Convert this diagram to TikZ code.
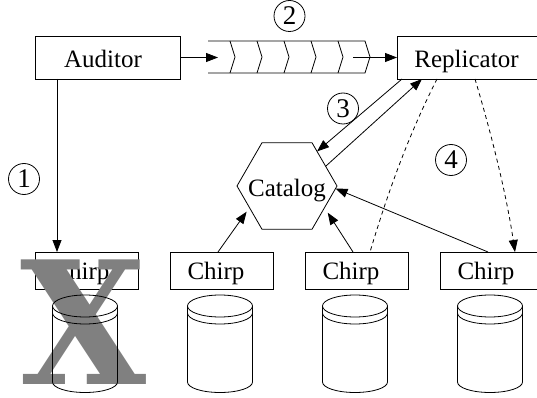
\documentclass[tikz,border=0pt]{standalone}
\usepackage{fontspec}
\setmainfont{Liberation Serif}
\newfontfamily\crossfont{DejaVu Serif}
\usetikzlibrary{arrows.meta,shapes.geometric,calc}

% storage cylinder centred at x = #1
\newcommand\dbcyl[1]{%
  \draw[lw] (#1,306) ellipse [x radius=32.5, y radius=11];
  \draw[lw] (#1-32.5,306) -- (#1-32.5,382)
    arc [start angle=180, end angle=0, x radius=32.5, y radius=10.5]
    -- (#1+32.5,306);
  \draw[lw] (#1-32.5,313) arc [start angle=180, end angle=0, x radius=32.5, y radius=11];
}

\begin{document}
\begin{tikzpicture}[x=1pt,y=-1pt,
  every node/.style={inner sep=0pt,outer sep=0pt},
  lw/.style={line width=0.8pt},
  arr/.style={lw,-{Triangle[length=12pt,width=9pt]}},
  dsh/.style={lw,dash pattern=on 4pt off 3.5pt},
  rbox/.style={draw,lw,font=\fontsize{25}{30}\selectfont},
  bigbox/.style={rbox,minimum width=145pt,minimum height=43pt,text height=21pt,text depth=0pt},
  chirpbox/.style={rbox,minimum width=103pt,minimum height=37pt,text height=17pt,text depth=0pt},
  hexa/.style={draw,lw,regular polygon,regular polygon sides=6,
    minimum size=100pt,font=\fontsize{25}{30}\selectfont},
  numcirc/.style={circle,draw,lw,minimum size=31pt,font=\fontsize{27}{30}\selectfont}
]
\useasboundingbox (0,0) rectangle (537,398);
\clip (0,0) rectangle (537,398);
\fill[white] (0,0) rectangle (537,398);

% processes
\node[bigbox] (aud) at (107.5,57.5) {Auditor\kern9pt};
\node[bigbox] (rep) at (469.5,57.5) {Replicator\kern6pt};
\node[hexa] (cat) at (287,186) {\makebox[0pt]{\raisebox{-10.5pt}[0pt][0pt]{Catalog}}};

% chirp servers
\node[chirpbox] (c1) at (86.5,270.5) {Chirp\kern11pt};
\node[chirpbox] (c2) at (221.5,270.5) {Chirp\kern11pt};
\node[chirpbox] (c3) at (356.5,270.5) {Chirp\kern11pt};
\node[chirpbox] (c4) at (491.5,270.5) {Chirp\kern11pt};

% failed server marker
\node[text=gray] (xmark) at (84,322.5)
  {\scalebox{0.95}[1]{\crossfont\bfseries\fontsize{171}{171}\selectfont X}};

% disks
\dbcyl{85}
\dbcyl{220}
\dbcyl{355}
\dbcyl{490}

% message queue
\coordinate (qin) at (218,57.5);
\coordinate (qout) at (353,57.5);
\draw[lw] (208,41) -- (365,41) -- (370,57) -- (365,73) -- (208,73);
\foreach \k in {0,...,4}
  \draw[lw] ({230+27*\k},41) -- ({235+27*\k},57) -- ({230+27*\k},73);

% step labels
\node[numcirc] (n1) at (24,179) {1};
\node[numcirc] (n2) at (289.5,16) {2};
\node[numcirc] (n3) at (343,108.5) {3};
\node[numcirc] (n4) at (451,160) {4};

% connectors
\draw[arr] (aud.east) -- (qin);
\draw[arr] (qout) -- (rep.west);
\draw[arr] ([xshift=22pt]aud.south west) -- ([xshift=22pt]c1.north west);
\draw[arr] ([xshift=5pt]rep.south west) -- (cat.49);
\draw[arr] (cat.27) -- ([xshift=25pt]rep.south west);
\draw[arr,shorten >=5pt] ([xshift=-3.5pt]c2.north) -- (cat.210);
\draw[arr,shorten >=6pt] ([xshift=-3.5pt]c3.north) -- (cat.-30);
\draw[arr] ([xshift=-3.5pt]c4.north) -- (cat.-3);
\draw[dsh] ([xshift=40pt]rep.south west) .. controls +(-29,57) and +(17,-57) .. ([xshift=13.5pt]c3.north);
\draw[dsh,-{Triangle[length=12pt,width=9pt]}] ([xshift=78pt]rep.south west) .. controls +(17,57) and +(-8.5,-57) .. ([xshift=23.5pt]c4.north);
\end{tikzpicture}
\end{document}
